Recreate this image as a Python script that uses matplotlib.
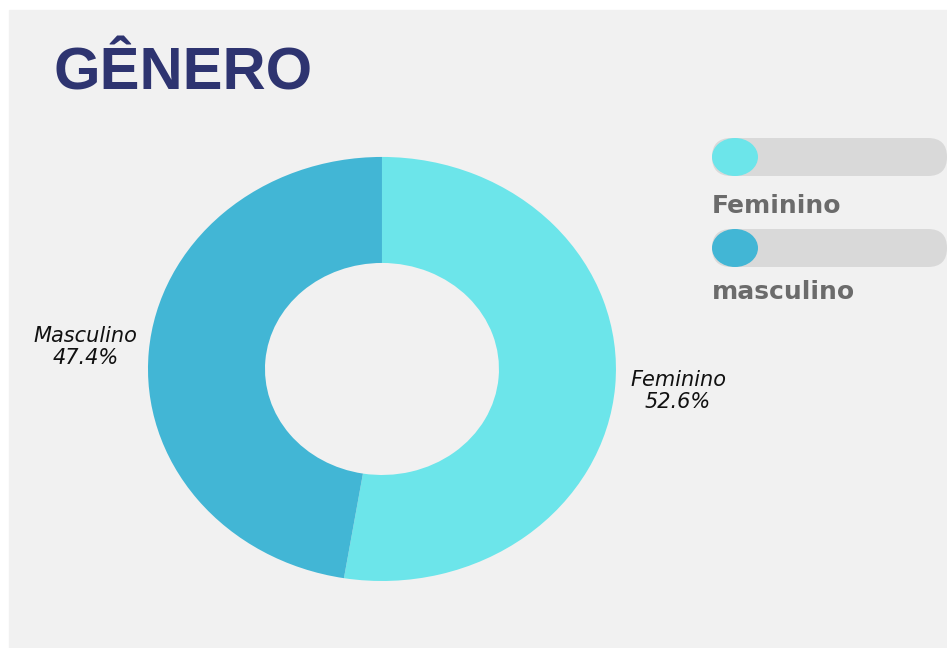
import matplotlib.pyplot as plt
from matplotlib.patches import Rectangle, FancyBboxPatch, Ellipse

# dados
categorias = ['Feminino', 'Masculino']
percentuais = [52.6, 47.4]
cores = ['#6ce5ea', '#42b6d5']
legenda_labels = ['Feminino', 'masculino']

fig = plt.figure(figsize=(9.47, 6.48), dpi=100)
fig.patch.set_facecolor('white')

# fundo / camada em pixels
bg = fig.add_axes([0, 0, 1, 1])
bg.set_xlim(0, 947)
bg.set_ylim(648, 0)
bg.axis('off')
bg.add_patch(Rectangle((9, 10), 938, 638, color='#f1f1f1', zorder=0))

bg.text(53, 90, 'GÊNERO', fontsize=43, fontweight='heavy', color='#2e3470',
        family='Liberation Sans', va='baseline', ha='left')

# legenda com barras arredondadas
topos = [138, 229]
bases_texto = [213, 299]
for lab, cor, y0, yb in zip(legenda_labels, cores, topos, bases_texto):
    bg.add_patch(FancyBboxPatch((731, y0 + 19), 947 - 712 - 38, 0,
                                boxstyle='round,pad=19',
                                color='#d9d9d9', lw=0, zorder=1))
    bg.add_patch(Ellipse((735, y0 + 19), 46, 38, color=cor, lw=0, zorder=2))
    bg.text(712, yb, lab, fontsize=18, fontweight='bold', color='#6b6b6b',
            family='DejaVu Sans', va='baseline', ha='left')

# gráfico de rosca
ax = fig.add_axes([0.0945, 0.0216, 0.6177, 0.818])
labels = [f'{c}\n{p}%' for c, p in zip(categorias, percentuais)]
wedges, texts = ax.pie(percentuais, labels=labels, colors=cores,
                       startangle=90, counterclock=False,
                       labeldistance=1.27,
                       wedgeprops=dict(width=0.5, linewidth=0),
                       textprops=dict(fontsize=15, style='italic',
                                      family='DejaVu Sans', color='#111111'))
for t in texts:
    t.set_ha('center')
    t.set_va('center')
    t.set_linespacing(1.15)
ax.set_aspect('auto')
ax.set_xlim(-1.25, 1.25)
ax.set_ylim(-1.25, 1.25)
ax.axis('off')

plt.savefig('out.png', dpi=100)
